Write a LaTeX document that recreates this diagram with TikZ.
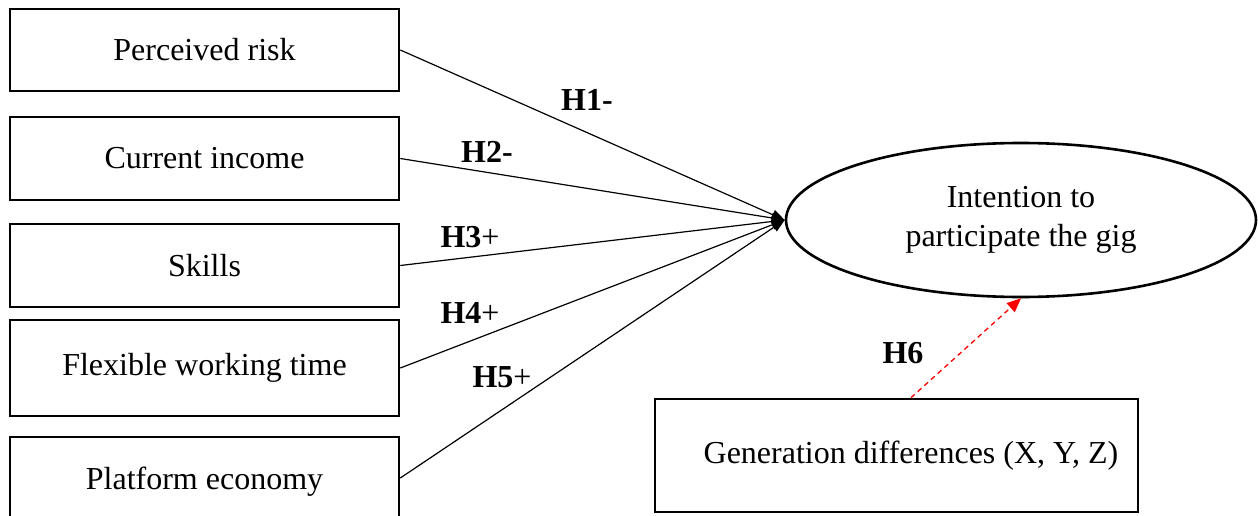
\documentclass[tikz,border=0pt]{standalone}
\usepackage{fontspec}
\setmainfont{Liberation Serif}
\usetikzlibrary{shapes.geometric,arrows.meta}
\tikzset{
  factor/.style={draw,line width=2.6pt,rectangle,minimum width=389pt,inner sep=0pt,font=\fontsize{32}{38}\selectfont},
  link/.style={line width=1.2pt,-{Triangle[length=13pt,width=10pt]}},
  hyp/.style={font=\fontsize{32}{38}\selectfont\bfseries,inner sep=0pt},
}
\begin{document}
\begin{tikzpicture}[x=1pt,y=-1pt]
\useasboundingbox (0,0) rectangle (1258,516);
\node[factor,minimum height=82pt] (pr) at (204.5,50) {Perceived risk};
\node[factor,minimum height=83pt] (ci) at (204.5,158.5) {Current income};
\node[factor,minimum height=83pt] (sk) at (204.5,265.5) {Skills};
\node[factor,minimum height=96pt] (fw) at (204.5,368) {Flexible working time};
\node[factor,minimum height=90pt] (pe) at (204.5,482) {Platform economy};
\node[draw,ellipse,line width=2.6pt,minimum width=470pt,minimum height=154pt,inner sep=0pt,align=center,font=\fontsize{32}{39}\selectfont] (it) at (1021,220) {Intention to\\participate the gig};
\node[factor,minimum width=483pt,minimum height=113pt] (gd) at (896.5,455.5) {\hspace*{29pt}Generation differences (X, Y, Z)};
\draw[link] (pr.east) -- (it.west);
\draw[link] (ci.east) -- (it.west);
\draw[link] (sk.east) -- (it.west);
\draw[link] (fw.east) -- (it.west);
\draw[link] ([yshift=4pt]pe.east) -- (it.west);
\draw[red,line width=1.3pt,dash pattern=on 5pt off 4pt,-{Triangle[length=14pt,width=12pt]}] ([xshift=14.5pt]gd.north) -- (it.south);
\node[hyp] (h1) at (587,100) {H1-};
\node[hyp] (h2) at (487,152) {H2-};
\node[hyp] (h3) at (470,237) {H3\textmd{+}};
\node[hyp] (h4) at (470,313) {H4\textmd{+}};
\node[hyp] (h5) at (502,377) {H5\textmd{+}};
\node[hyp] (h6) at (903,353) {H6};
\end{tikzpicture}
\end{document}
